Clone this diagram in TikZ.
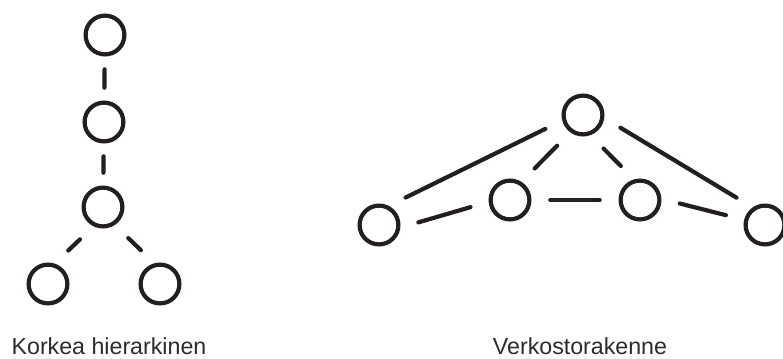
\documentclass[tikz,border=0pt]{standalone}
\usepackage{fontspec}
\setmainfont{Liberation Sans}
\usepackage{xcolor}

\definecolor{ink}{HTML}{231F20}
\definecolor{txt}{HTML}{2B2B2B}

\begin{document}
\begin{tikzpicture}[
    x=0.025cm, y=-0.025cm,
    dot/.style={circle, draw=ink, line width=0.105cm,
                minimum size=0.97cm, inner sep=0pt},
    link/.style={draw=ink, line width=0.105cm, line cap=round,
                 shorten <=0.47cm, shorten >=0.47cm},
    tight/.style={shorten <=0.32cm, shorten >=0.32cm},
    caption/.style={font=\fontsize{16.5}{18}\selectfont, text=txt,
                    inner sep=0pt, anchor=base}
]
\useasboundingbox (0,0) rectangle (783,358);

% korkea hierarkia
\node[dot] (root)  at (105,35)  {};
\node[dot] (mid)   at (104,122) {};
\node[dot] (hub)   at (103,207) {};
\node[dot] (leafl) at (48,284)  {};
\node[dot] (leafr) at (160,284) {};

\draw[link, tight] (root) -- (mid);
\draw[link, tight] (mid) -- (hub);
\draw[link] (hub.244) -- (leafl.72);
\draw[link] (hub.303) -- (leafr.105);

% verkosto
\node[dot] (apex) at (583,115) {};
\node[dot] (inl)  at (510,200) {};
\node[dot] (inr)  at (640,200) {};
\node[dot] (outl) at (379,225) {};
\node[dot] (outr) at (765,225) {};

\draw[link] (apex.195) -- (outl.63);
\draw[link] (apex.234) -- (inl.58);
\draw[link] (apex.290) -- (inr.106);
\draw[link] (apex.352) -- (outr.125);
\draw[link] (outl.353) -- (inl.185);
\draw[link] (inl) -- (inr);
\draw[link] (inr.3) -- (outr.166);

\node[caption] (tcap) at (109,354) {Korkea hierarkinen};
\node[caption] (ncap) at (580,354) {Verkostorakenne};
\end{tikzpicture}
\end{document}
